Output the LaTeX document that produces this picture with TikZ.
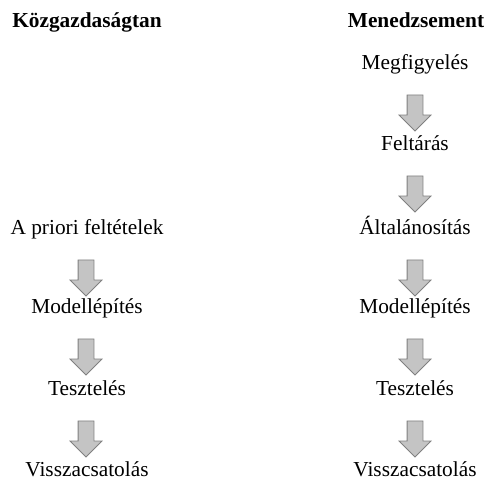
\documentclass[tikz,border=0pt]{standalone}
\usepackage{fontspec}
\setmainfont{Liberation Serif}
\usetikzlibrary{shapes.arrows}

\tikzset{every picture/.style={line width=0.75pt}}
\tikzset{
  steptext/.style={anchor=base,inner sep=0.75pt,font=\fontsize{16}{19}\selectfont},
  headtext/.style={steptext,font=\fontsize{16}{19}\selectfont\bfseries},
  downarrow/.style={single arrow,draw={rgb,255:red,128;green,128;blue,128},
    fill={rgb,255:red,196;green,196;blue,196},line width=0.6pt,
    shape border rotate=270,minimum height=27pt,minimum width=23.25pt,
    single arrow head extend=6pt,inner sep=0pt,text width=11.25pt,text height=0pt,text depth=0pt},
}

\begin{document}
\begin{tikzpicture}[x=0.75pt,y=0.75pt,yscale=-1,xscale=1]
\useasboundingbox (0,0) rectangle (488,479);

% Headers
\node [headtext] (kozg) at (87,27) {Közgazdaságtan};
\node [headtext] (menedz) at (416,27) {Menedzsement};

% Left column
\node [steptext] (apriori) at (87,234) {A priori feltételek};
\node [steptext] (lmodell) at (87,313) {Modellépítés};
\node [steptext] (lteszt) at (87,395) {Tesztelés};
\node [steptext] (lvissza) at (87,476) {Visszacsatolás};

% Right column
\node [steptext] (megfigy) at (415,69) {Megfigyelés};
\node [steptext] (feltar) at (415,150) {Feltárás};
\node [steptext] (altal) at (415,234) {Általánosítás};
\node [steptext] (rmodell) at (415,313) {Modellépítés};
\node [steptext] (rteszt) at (415,395) {Tesztelés};
\node [steptext] (rvissza) at (415,476) {Visszacsatolás};

% Block arrows
\node [downarrow] (la1) at (86,274) {};
\node [downarrow] (la2) at (86,353) {};
\node [downarrow] (la3) at (86,435) {};
\node [downarrow] (ra1) at (415,109) {};
\node [downarrow] (ra2) at (415,190) {};
\node [downarrow] (ra3) at (415,274) {};
\node [downarrow] (ra4) at (415,353) {};
\node [downarrow] (ra5) at (415,435) {};
\end{tikzpicture}
\end{document}
